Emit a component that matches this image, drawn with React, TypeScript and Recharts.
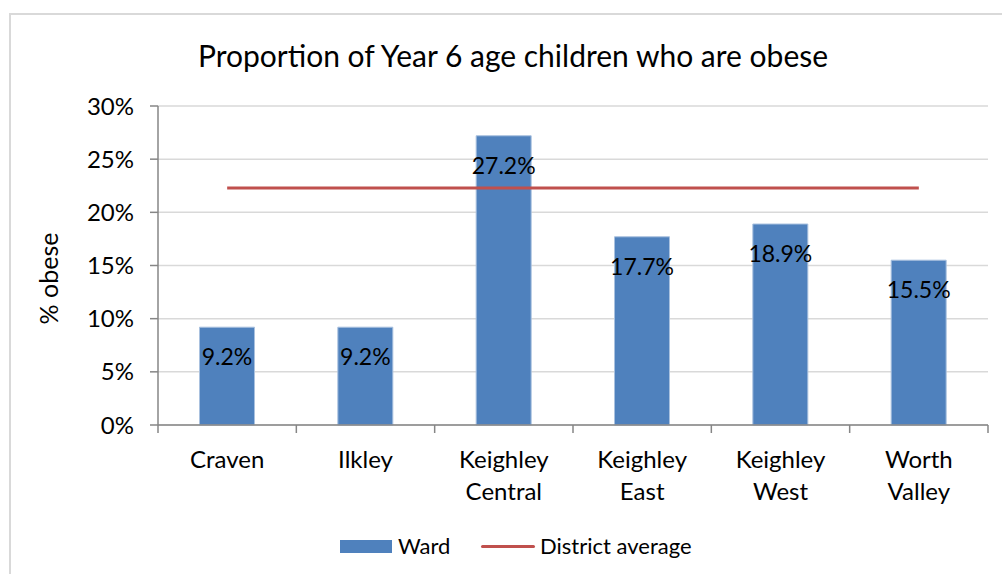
import React from 'react';
import { ComposedChart, Bar, Line, XAxis, YAxis, CartesianGrid, LabelList } from 'recharts';

const wards = ['Craven', 'Ilkley', 'Keighley Central', 'Keighley East', 'Keighley West', 'Worth Valley'];
const wardValues = [0.092, 0.092, 0.272, 0.177, 0.189, 0.155];
const districtAverage = [0.223, 0.223, 0.223, 0.223, 0.223, 0.223];
const yTicks = [0, 0.05, 0.1, 0.15, 0.2, 0.25, 0.3];

const data = wards.map((w, i) => ({ name: w, ward: wardValues[i], district: districtAverage[i] }));

const FONT = 'Lato, "Open Sans", sans-serif';
const AXIS = '#868686';
const GRID = '#d9d9d9';
const BAR = '#4f81bd';
const LINE = '#c0504d';

const W = 1002;
const H = 574;
const M = { top: 106, right: 14, bottom: 119, left: 0 };
const plotW = W - 158 - M.right;
const band = plotW / wards.length;

const XTick = (props: any) => {
  const { x, y, payload, index } = props;
  const axisY = y - 10;
  const words = String(payload.value).split(' ');
  return (
    <g>
      <line x1={x - band / 2} x2={x - band / 2} y1={axisY} y2={axisY + 8} stroke={AXIS} strokeWidth={1.5} />
      {index === wards.length - 1 && (
        <line x1={x + band / 2} x2={x + band / 2} y1={axisY} y2={axisY + 8} stroke={AXIS} strokeWidth={1.5} />
      )}
      <text x={x} y={y + 33} textAnchor="middle" fontFamily={FONT} fontSize={24} fill="#000">
        {words.map((w, i) => (
          <tspan key={i} x={x} dy={i === 0 ? 0 : 32}>{w}</tspan>
        ))}
      </text>
    </g>
  );
};

const BarLabel = (props: any) => {
  const { x, y, width, value } = props;
  return (
    <text x={x + width / 2} y={y + 29} textAnchor="middle" dominantBaseline="central" fontFamily={FONT} fontSize={23} fill="#000">
      {(value * 100).toFixed(1)}%
    </text>
  );
};

const YLabel = (props: any) => {
  const { viewBox } = props;
  const cx = viewBox.x + 48;
  const cy = viewBox.y + viewBox.height / 2 + 13;
  return (
    <text x={cx} y={cy} transform={`rotate(-90 ${cx} ${cy})`} textAnchor="middle" dominantBaseline="central" fontFamily={FONT} fontSize={25} fill="#000">
      % obese
    </text>
  );
};

export default function App() {
  return (
    <div style={{ position: 'absolute', left: 0, top: 0, width: W, height: H, overflow: 'hidden', background: '#fff', fontFamily: FONT }}>
      <div style={{ position: 'absolute', left: 9, top: 13, width: 1100, height: 700, borderLeft: `2px solid ${GRID}`, borderTop: `2px solid ${GRID}` }} />
      <div style={{ position: 'absolute', left: 0, top: 35, width: 1026, textAlign: 'center', fontSize: 30, color: '#000', lineHeight: '40px' }}>
        Proportion of Year 6 age children who are obese
      </div>
      <div style={{ position: 'absolute', left: 0, top: 0 }}>
        <ComposedChart width={W} height={H} data={data} margin={M} barCategoryGap="30%">
          <CartesianGrid vertical={false} stroke={GRID} strokeWidth={1.5} />
          <XAxis
            dataKey="name"
            tick={<XTick />}
            tickLine={false}
            tickSize={8}
            tickMargin={2}
            interval={0}
            axisLine={{ stroke: AXIS, strokeWidth: 1.5 }}
            height={30}
          />
          <YAxis
            width={158}
            domain={[0, 0.3]}
            ticks={yTicks}
            interval={0}
            tickFormatter={(v: number) => `${Math.round(v * 100)}%`}
            tick={{ fontFamily: FONT, fontSize: 24, fill: '#000' }}
            tickSize={8}
            tickMargin={16}
            tickLine={{ stroke: AXIS, strokeWidth: 1.5 }}
            axisLine={{ stroke: AXIS, strokeWidth: 1.5 }}
            label={<YLabel />}
          />
          <Bar dataKey="ward" fill={BAR} stroke="#a9c1df" strokeWidth={1} isAnimationActive={false}>
            <LabelList dataKey="ward" content={<BarLabel />} />
          </Bar>
          <Line dataKey="district" stroke={LINE} strokeWidth={3} dot={false} activeDot={false} isAnimationActive={false} />
        </ComposedChart>
      </div>
      <div style={{ position: 'absolute', left: 340, top: 540, width: 52, height: 13, background: BAR }} />
      <div style={{ position: 'absolute', left: 398, top: 531, fontSize: 22, lineHeight: '30px', color: '#000' }}>Ward</div>
      <div style={{ position: 'absolute', left: 481, top: 545, width: 54, height: 3, background: LINE, borderRadius: 2 }} />
      <div style={{ position: 'absolute', left: 540, top: 531, fontSize: 22, lineHeight: '30px', color: '#000' }}>District average</div>
    </div>
  );
}
